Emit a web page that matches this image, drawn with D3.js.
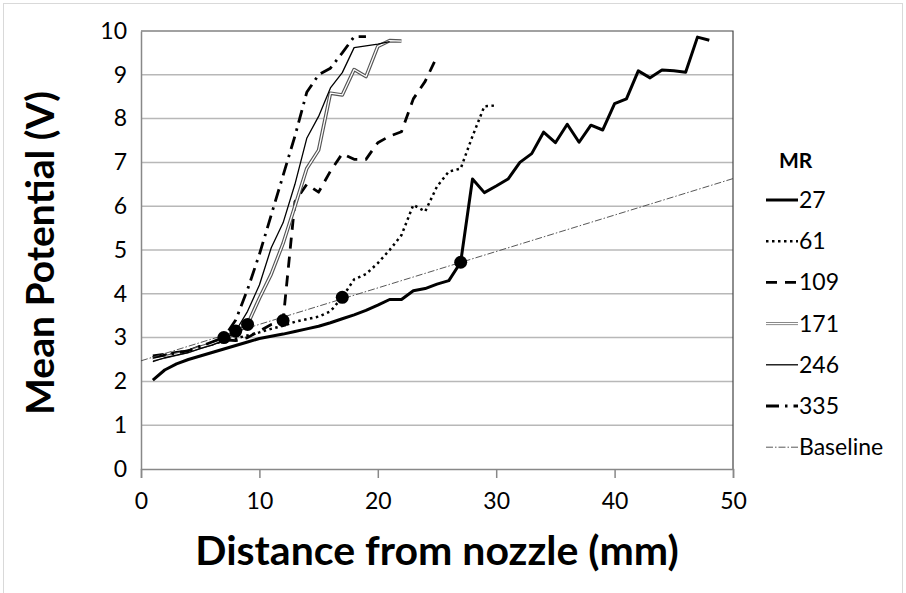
<!DOCTYPE html>
<html>
<head>
<meta charset="utf-8">
<script src="https://cdn.jsdelivr.net/npm/d3@7"></script>
<style>
  body { margin: 0; background: #fff; }
  text { font-family: Lato, "Open Sans", sans-serif; }
</style>
</head>
<body>
<div id="chart"></div>
<script>
// distance (mm) and mean potential (V) per MR series
var x27 = d3.range(1, 49);
var v27 = [2.03, 2.26, 2.4, 2.5, 2.58, 2.66, 2.74, 2.82, 2.9, 2.98, 3.03, 3.08, 3.14, 3.2, 3.26, 3.34, 3.43, 3.52, 3.62, 3.74, 3.87, 3.87, 4.07, 4.12, 4.22, 4.3, 4.72, 6.62, 6.31, 6.46, 6.62, 7.0, 7.2, 7.69, 7.45, 7.87, 7.46, 7.85, 7.74, 8.34, 8.45, 9.09, 8.93, 9.11, 9.09, 9.06, 9.86, 9.79];
var x61 = d3.range(1, 31);
var v61 = [2.55, 2.6, 2.65, 2.7, 2.78, 2.85, 2.92, 2.98, 3.05, 3.12, 3.2, 3.27, 3.36, 3.42, 3.48, 3.6, 3.92, 4.33, 4.45, 4.7, 5.0, 5.34, 6.03, 5.88, 6.45, 6.79, 6.86, 7.6, 8.28, 8.3];
var x109 = d3.range(1, 26);
var v109 = [2.58, 2.62, 2.66, 2.7, 2.8, 2.88, 2.95, 2.93, 3.0, 3.15, 3.3, 3.39, 6.1, 6.5, 6.32, 6.8, 7.2, 7.07, 7.07, 7.45, 7.6, 7.7, 8.45, 8.85, 9.42];
var x171 = d3.range(1, 23);
var v171 = [2.5, 2.56, 2.62, 2.68, 2.78, 2.86, 2.97, 3.1, 3.3, 3.9, 4.45, 5.15, 6.0, 6.86, 7.28, 8.58, 8.54, 9.12, 8.96, 9.65, 9.78, 9.77];
var x246 = d3.range(1, 22);
var v246 = [2.45, 2.54, 2.6, 2.66, 2.75, 2.83, 2.93, 3.15, 3.6, 4.2, 5.05, 5.62, 6.5, 7.55, 8.05, 8.7, 9.05, 9.62, 9.66, 9.7, 9.76];
var x335 = d3.range(1, 20);
var v335 = [2.55, 2.6, 2.65, 2.7, 2.8, 2.9, 3.0, 3.4, 4.1, 4.9, 5.8, 6.7, 7.6, 8.6, 9.0, 9.15, 9.5, 9.87, 9.87];
var xBase = [0, 50];
var vBase = [2.47, 6.63];
// departure points marked with dots
var xMark = [7, 8, 9, 12, 17, 27];
var vMark = [3.0, 3.15, 3.3, 3.39, 3.92, 4.72];

var xTicks = [0, 10, 20, 30, 40, 50];
var yTicks = d3.range(0, 11);
var seriesNames = ["27", "61", "109", "171", "246", "335", "Baseline"];

var W = 906, H = 593;
var pLeft = 141, pRight = 733, pTop = 31, pBottom = 469;

var svg = d3.select("#chart").append("svg")
    .attr("width", W)
    .attr("height", H);

svg.append("rect")
    .attr("x", 3.5).attr("y", 3.5)
    .attr("width", 899).attr("height", 640)
    .attr("fill", "none")
    .attr("stroke", "#d9d9d9");

var x = d3.scaleLinear().domain([0, 50]).range([pLeft, pRight]);
var y = d3.scaleLinear().domain([0, 10]).range([pBottom, pTop]);

// gridlines
svg.append("g")
    .selectAll("line")
    .data(yTicks.slice(1, 10))
    .enter()
    .append("line")
    .attr("x1", pLeft).attr("x2", pRight)
    .attr("y1", function(d) { return y(d); })
    .attr("y2", function(d) { return y(d); })
    .attr("stroke", "#b8b8b8")
    .attr("stroke-width", 1.5);

// top and right border
svg.append("path")
    .attr("d", "M" + pLeft + "," + pTop + "H" + pRight + "V" + pBottom)
    .attr("fill", "none")
    .attr("stroke", "#444")
    .attr("stroke-width", 1.2);

var xAxis = svg.append("g")
    .attr("transform", "translate(0," + pBottom + ")")
    .call(d3.axisBottom(x).tickValues(xTicks).tickSize(9).tickPadding(15));
var yAxis = svg.append("g")
    .attr("transform", "translate(" + pLeft + ",0)")
    .call(d3.axisLeft(y).tickValues(yTicks).tickSize(0).tickPadding(14));

[xAxis, yAxis].forEach(function(a) {
    a.select(".domain").attr("stroke", "#888").attr("stroke-width", 1.5);
    a.selectAll(".tick line").attr("stroke", "#888").attr("stroke-width", 1.5);
    a.selectAll("text")
        .attr("font-family", "Lato, sans-serif")
        .attr("font-size", 23)
        .attr("fill", "#000");
});

var line = d3.line()
    .x(function(d) { return x(d[0]); })
    .y(function(d) { return y(d[1]); });

var styles = {
    "27":  [{ stroke: "#000", width: 3, dash: null }],
    "61":  [{ stroke: "#000", width: 2.5, dash: "2.5,3.5" }],
    "109": [{ stroke: "#000", width: 2.8, dash: "11,8" }],
    "171": [{ stroke: "#555", width: 3.6, dash: null }, { stroke: "#fff", width: 1.3, dash: null }],
    "246": [{ stroke: "#000", width: 1.3, dash: null }],
    "335": [{ stroke: "#000", width: 2.8, dash: "13,6,2.5,6" }],
    "Baseline": [{ stroke: "#444", width: 0.9, dash: "7,2,1.5,2" }]
};

var xs = [x27, x61, x109, x171, x246, x335, xBase];
var vs = [v27, v61, v109, v171, v246, v335, vBase];

var plot = svg.append("g");
seriesNames.forEach(function(name, i) {
    var pts = xs[i].map(function(d, j) { return [d, vs[i][j]]; });
    styles[name].forEach(function(s) {
        plot.append("path")
            .datum(pts)
            .attr("d", line)
            .attr("fill", "none")
            .attr("stroke", s.stroke)
            .attr("stroke-width", s.width)
            .attr("stroke-dasharray", s.dash)
            .attr("stroke-linejoin", "round");
    });
});

plot.selectAll("circle")
    .data(xMark)
    .enter()
    .append("circle")
    .attr("cx", function(d) { return x(d); })
    .attr("cy", function(d, i) { return y(vMark[i]); })
    .attr("r", 6.5)
    .attr("fill", "#000");

// axis titles
svg.append("text")
    .attr("x", (pLeft + pRight) / 2)
    .attr("y", 565)
    .attr("text-anchor", "middle")
    .attr("font-weight", "bold")
    .attr("font-size", 41)
    .text("Distance from nozzle (mm)");

svg.append("text")
    .attr("transform", "translate(54," + ((pTop + pBottom) / 2 + 3) + ") rotate(-90)")
    .attr("text-anchor", "middle")
    .attr("font-family", "Liberation Sans, Arial, sans-serif")
    .attr("font-weight", "bold")
    .attr("font-size", 39)
    .text("Mean Potential (V)");

// legend
var leg = svg.append("g");
leg.append("text")
    .attr("x", 779).attr("y", 168)
    .attr("font-weight", "bold")
    .attr("font-size", 21)
    .text("MR");

seriesNames.forEach(function(name, i) {
    var ly = 200 + i * 41.2;
    styles[name].forEach(function(s) {
        leg.append("line")
            .attr("x1", 766).attr("x2", 798)
            .attr("y1", ly).attr("y2", ly)
            .attr("stroke", name === "171" && s.stroke !== "#fff" ? "#777" : s.stroke)
            .attr("stroke-width", Math.min(s.width, 3))
            .attr("stroke-dasharray", s.dash);
    });
    leg.append("text")
        .attr("x", 799).attr("y", ly + 8)
        .attr("font-size", 23)
        .text(name);
});
</script>
</body>
</html>
